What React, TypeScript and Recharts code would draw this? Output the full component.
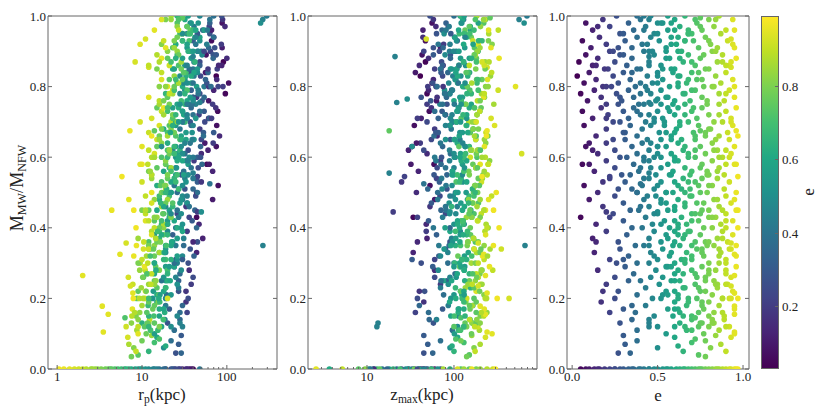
import React from 'react'
import { ScatterChart, Scatter, XAxis, YAxis } from 'recharts'

// each row: [M_MW/M_NFW, e, r_p (kpc), z_max (kpc)]
const band95 = [
  [0.98, 0.08, 88, 56], [0.96, 0.12, 66, 44], [0.99, 0.18, 89, 58], [0.97, 0.22, 62, 86], [1.0, 0.26, 87, 53],
  [0.95, 0.3, 45, 92], [0.98, 0.33, 63, 81], [0.96, 0.36, 52, 73], [0.99, 0.4, 63, 129], [0.97, 0.43, 41, 88],
  [1.0, 0.46, 48, 118], [0.95, 0.5, 30, 77], [0.98, 0.53, 46, 123], [0.96, 0.56, 54, 154], [0.99, 0.6, 32, 126],
  [0.97, 0.63, 34, 154], [1.0, 0.66, 26, 119], [0.95, 0.7, 36, 152], [0.98, 0.73, 26, 220], [0.96, 0.76, 37, 134],
  [0.99, 0.8, 19, 231], [0.97, 0.83, 26, 202], [1.0, 0.86, 22, 183], [0.96, 0.9, 27, 323], [0.99, 0.94, 17, 224],
  [0.99, 0.45, 265, 560], [0.98, 0.5, 250, 640], [1.0, 0.42, 295, 690], [0.97, 0.15, 95, 62], [1.0, 0.38, 70, 100],
  [0.96, 0.68, 40, 170], [0.98, 0.58, 38, 190], [0.995, 0.75, 30, 260],
]
const band90 = [
  [0.93, 0.06, 66, 47], [0.91, 0.11, 88, 70], [0.94, 0.16, 70, 44], [0.92, 0.2, 86, 76], [0.9, 0.24, 54, 68],
  [0.95, 0.28, 63, 63], [0.93, 0.31, 40, 109], [0.91, 0.35, 61, 75], [0.94, 0.38, 70, 102], [0.92, 0.41, 43, 66],
  [0.9, 0.45, 45, 106], [0.95, 0.48, 34, 133], [0.93, 0.51, 48, 107], [0.91, 0.55, 34, 133], [0.94, 0.58, 48, 102],
  [0.92, 0.61, 25, 129], [0.9, 0.64, 35, 186], [0.95, 0.68, 28, 115], [0.93, 0.71, 36, 195], [0.91, 0.74, 23, 172],
  [0.94, 0.78, 26, 158], [0.92, 0.81, 17, 274], [0.9, 0.84, 26, 186], [0.95, 0.87, 30, 251], [0.93, 0.91, 18, 165],
  [0.91, 0.95, 19, 266], [0.92, 0.44, 58, 90], [0.94, 0.62, 42, 140], [0.91, 0.27, 72, 58], [0.93, 0.66, 30, 210],
  [0.96, 0.95, 14, 250], [0.935, 0.93, 11, 48], [0.92, 0.94, 9.5, 190],
]
const band85 = [
  [0.87, 0.04, 91, 47], [0.89, 0.08, 57, 43], [0.86, 0.12, 87, 75], [0.88, 0.15, 100, 51], [0.85, 0.19, 60, 71],
  [0.9, 0.22, 64, 45], [0.87, 0.25, 48, 72], [0.89, 0.28, 69, 91], [0.86, 0.32, 48, 74], [0.88, 0.35, 69, 91],
  [0.85, 0.38, 36, 70], [0.9, 0.42, 50, 89], [0.87, 0.45, 41, 129], [0.89, 0.48, 51, 79], [0.86, 0.52, 32, 136],
  [0.88, 0.55, 38, 119], [0.85, 0.58, 24, 107], [0.9, 0.62, 37, 189], [0.87, 0.65, 42, 129], [0.89, 0.68, 26, 174],
  [0.86, 0.72, 27, 114], [0.88, 0.75, 20, 181], [0.85, 0.78, 29, 228], [0.9, 0.82, 20, 186], [0.87, 0.85, 29, 228],
  [0.89, 0.88, 15, 176], [0.86, 0.92, 21, 223], [0.88, 0.96, 17, 330], [0.87, 0.93, 8.3, 210], [0.86, 0.9, 12, 150],
  [0.88, 0.57, 30, 150], [0.89, 0.3, 75, 58], [0.86, 0.14, 80, 40], [0.885, 0.45, 40, 21],
]
const band80 = [
  [0.83, 0.03, 75, 41], [0.81, 0.07, 105, 56], [0.84, 0.1, 56, 36], [0.82, 0.14, 76, 58], [0.8, 0.18, 61, 75],
  [0.85, 0.21, 77, 60], [0.83, 0.24, 49, 74], [0.81, 0.27, 58, 57], [0.84, 0.3, 37, 71], [0.82, 0.34, 56, 105],
  [0.8, 0.37, 65, 64], [0.85, 0.4, 40, 108], [0.83, 0.44, 41, 97], [0.81, 0.47, 31, 87], [0.84, 0.5, 45, 151],
  [0.82, 0.53, 32, 103], [0.8, 0.57, 44, 141], [0.85, 0.6, 23, 91], [0.83, 0.63, 33, 144], [0.81, 0.67, 26, 184],
  [0.84, 0.7, 33, 148], [0.82, 0.73, 21, 182], [0.8, 0.77, 24, 142], [0.85, 0.8, 15, 178], [0.83, 0.84, 24, 263],
  [0.81, 0.87, 27, 160], [0.84, 0.9, 17, 271], [0.82, 0.94, 17, 243], [0.83, 0.5, 28, 120], [0.81, 0.62, 38, 110],
  [0.84, 0.35, 60, 85], [0.8, 0.2, 90, 50], [0.82, 0.76, 30, 210], [0.855, 0.93, 12, 240], [0.8, 0.95, 20, 510],
]
const band75 = [
  [0.78, 0.05, 96, 49], [0.76, 0.09, 61, 63], [0.79, 0.13, 70, 51], [0.77, 0.17, 44, 64], [0.75, 0.2, 68, 49],
  [0.8, 0.23, 79, 62], [0.78, 0.26, 48, 89], [0.76, 0.29, 51, 54], [0.79, 0.33, 38, 94], [0.77, 0.36, 54, 82],
  [0.75, 0.39, 39, 74], [0.8, 0.43, 54, 132], [0.78, 0.46, 28, 90], [0.76, 0.49, 40, 121], [0.79, 0.52, 32, 78],
  [0.77, 0.56, 40, 125], [0.75, 0.59, 26, 158], [0.8, 0.62, 30, 126], [0.78, 0.66, 19, 158], [0.76, 0.69, 29, 121],
  [0.79, 0.72, 34, 152], [0.77, 0.76, 20, 224], [0.75, 0.79, 21, 137], [0.8, 0.82, 16, 231], [0.78, 0.86, 23, 207],
  [0.76, 0.89, 16, 186], [0.79, 0.92, 23, 322], [0.77, 0.95, 12, 220], [0.76, 0.6, 34, 100], [0.78, 0.4, 46, 78],
  [0.79, 0.7, 24, 190], [0.77, 0.28, 40, 42], [0.755, 0.45, 48, 22], [0.765, 0.5, 40, 29],
]
const band70 = [
  [0.73, 0.06, 78, 52], [0.71, 0.12, 61, 42], [0.74, 0.17, 74, 55], [0.72, 0.21, 47, 80], [0.7, 0.24, 55, 49],
  [0.75, 0.27, 35, 83], [0.73, 0.3, 54, 73], [0.71, 0.33, 62, 66], [0.74, 0.36, 38, 114], [0.72, 0.4, 40, 79],
  [0.7, 0.43, 30, 107], [0.75, 0.46, 43, 69], [0.73, 0.5, 30, 111], [0.71, 0.53, 43, 140], [0.74, 0.56, 23, 112],
  [0.72, 0.6, 31, 140], [0.7, 0.63, 25, 107], [0.75, 0.66, 32, 134], [0.73, 0.7, 20, 198], [0.71, 0.73, 23, 121],
  [0.74, 0.76, 15, 205], [0.72, 0.8, 23, 184], [0.7, 0.83, 26, 164], [0.75, 0.86, 16, 287], [0.73, 0.9, 17, 198],
  [0.71, 0.93, 13, 267], [0.74, 0.96, 18, 172], [0.72, 0.45, 34, 95], [0.74, 0.62, 27, 150], [0.71, 0.2, 66, 38],
  [0.73, 0.38, 48, 60], [0.675, 0.96, 7.2, 240], [0.7, 0.93, 9.5, 180], [0.67, 0.3, 70, 62],
]
const band65 = [
  [0.69, 0.07, 76, 35], [0.66, 0.14, 82, 64], [0.68, 0.2, 48, 60], [0.65, 0.24, 50, 55], [0.7, 0.28, 37, 97],
  [0.67, 0.31, 53, 66], [0.69, 0.34, 38, 89], [0.66, 0.38, 53, 59], [0.68, 0.41, 28, 93], [0.65, 0.44, 39, 117],
  [0.7, 0.48, 31, 95], [0.67, 0.51, 39, 117], [0.69, 0.54, 25, 90], [0.66, 0.58, 29, 115], [0.68, 0.61, 18, 166],
  [0.65, 0.64, 29, 101], [0.7, 0.68, 32, 174], [0.67, 0.71, 20, 154], [0.69, 0.74, 21, 138], [0.66, 0.78, 16, 245],
  [0.68, 0.81, 22, 166], [0.65, 0.84, 16, 224], [0.7, 0.88, 22, 148], [0.67, 0.91, 12, 233], [0.69, 0.94, 16, 293],
  [0.66, 0.97, 13, 236], [0.67, 0.55, 33, 125], [0.69, 0.46, 40, 80], [0.66, 0.72, 25, 180], [0.675, 0.75, 14, 18],
]
const band60 = [
  [0.63, 0.08, 75, 33], [0.61, 0.15, 50, 49], [0.64, 0.2, 69, 41], [0.62, 0.25, 35, 45], [0.6, 0.28, 49, 72],
  [0.65, 0.31, 40, 91], [0.63, 0.35, 49, 74], [0.61, 0.38, 32, 91], [0.64, 0.41, 37, 70], [0.62, 0.45, 23, 89],
  [0.6, 0.48, 36, 129], [0.65, 0.52, 41, 80], [0.63, 0.55, 25, 135], [0.61, 0.58, 26, 119], [0.64, 0.62, 20, 109],
  [0.62, 0.65, 28, 190], [0.6, 0.68, 20, 129], [0.65, 0.72, 28, 178], [0.63, 0.75, 15, 114], [0.61, 0.78, 21, 181],
  [0.64, 0.82, 17, 232], [0.62, 0.85, 21, 187], [0.6, 0.88, 13, 229], [0.65, 0.92, 15, 178], [0.63, 0.95, 10, 224],
  [0.62, 0.12, 60, 30], [0.64, 0.1, 55, 37], [0.61, 0.5, 30, 100], [0.63, 0.66, 24, 150], [0.6, 0.42, 40, 60],
  [0.62, 0.9, 12, 160], [0.63, 0.5, 17, 33], [0.61, 0.93, 14, 600],
]
const band55 = [
  [0.58, 0.06, 58, 59], [0.56, 0.13, 68, 39], [0.59, 0.2, 41, 70], [0.57, 0.25, 46, 64], [0.55, 0.29, 29, 59],
  [0.6, 0.32, 45, 103], [0.58, 0.36, 51, 71], [0.56, 0.39, 31, 96], [0.59, 0.42, 33, 62], [0.57, 0.46, 25, 100],
  [0.55, 0.49, 35, 125], [0.6, 0.52, 25, 101], [0.58, 0.56, 35, 125], [0.56, 0.59, 18, 96], [0.59, 0.62, 26, 121],
  [0.57, 0.66, 21, 178], [0.55, 0.69, 26, 109], [0.6, 0.72, 17, 184], [0.58, 0.76, 19, 165], [0.56, 0.79, 12, 148],
  [0.59, 0.82, 19, 257], [0.57, 0.86, 22, 178], [0.55, 0.89, 13, 241], [0.6, 0.92, 14, 154], [0.58, 0.96, 10, 249],
  [0.57, 0.4, 38, 80], [0.59, 0.6, 30, 140], [0.56, 0.7, 22, 130], [0.58, 0.1, 62, 32], [0.58, 0.95, 9.5, 200],
  [0.545, 0.97, 5.8, 210], [0.555, 0.45, 40, 18],
]
const band50 = [
  [0.52, 0.07, 79, 53], [0.5, 0.15, 44, 37], [0.54, 0.22, 44, 63], [0.51, 0.27, 32, 83], [0.53, 0.31, 45, 68],
  [0.55, 0.34, 32, 83], [0.5, 0.38, 45, 65], [0.52, 0.41, 24, 81], [0.54, 0.45, 32, 120], [0.51, 0.48, 27, 73],
  [0.53, 0.52, 33, 126], [0.5, 0.55, 21, 111], [0.55, 0.58, 25, 99], [0.52, 0.62, 15, 176], [0.54, 0.65, 24, 120],
  [0.51, 0.69, 27, 165], [0.53, 0.72, 17, 106], [0.5, 0.75, 18, 168], [0.55, 0.79, 13, 216], [0.52, 0.82, 19, 173],
  [0.54, 0.85, 13, 212], [0.51, 0.89, 19, 166], [0.53, 0.92, 10, 207], [0.5, 0.96, 13, 306], [0.52, 0.5, 30, 95],
  [0.53, 0.6, 22, 140], [0.51, 0.35, 40, 50], [0.54, 0.76, 20, 190], [0.525, 0.4, 63, 45], [0.53, 0.18, 50, 25],
  [0.545, 0.22, 45, 27],
]
const band45 = [
  [0.48, 0.1, 68, 60], [0.46, 0.18, 33, 53], [0.49, 0.25, 43, 69], [0.47, 0.3, 34, 55], [0.45, 0.34, 42, 71],
  [0.5, 0.38, 26, 104], [0.48, 0.42, 30, 65], [0.46, 0.45, 19, 109], [0.49, 0.49, 30, 98], [0.47, 0.52, 34, 88],
  [0.45, 0.56, 21, 156], [0.5, 0.59, 22, 106], [0.48, 0.62, 16, 143], [0.46, 0.66, 23, 94], [0.49, 0.69, 16, 149],
  [0.47, 0.73, 23, 191], [0.45, 0.76, 12, 153], [0.5, 0.79, 17, 187], [0.48, 0.83, 14, 147], [0.46, 0.86, 17, 184],
  [0.49, 0.9, 11, 271], [0.47, 0.93, 13, 165], [0.45, 0.97, 8, 285], [0.47, 0.55, 28, 120], [0.49, 0.7, 21, 170],
  [0.46, 0.4, 36, 80], [0.48, 0.85, 20, 200], [0.445, 0.2, 45, 20], [0.45, 0.96, 4.4, 230], [0.48, 0.95, 7, 250],
  [0.445, 0.5, 50, 90],
]
const band40 = [
  [0.43, 0.05, 44, 34], [0.41, 0.14, 47, 48], [0.44, 0.24, 26, 80], [0.42, 0.3, 39, 51], [0.4, 0.35, 44, 90],
  [0.45, 0.39, 26, 81], [0.43, 0.43, 27, 74], [0.41, 0.47, 20, 131], [0.44, 0.5, 29, 89], [0.42, 0.54, 20, 122],
  [0.4, 0.57, 29, 79], [0.45, 0.6, 15, 125], [0.43, 0.64, 21, 160], [0.41, 0.67, 17, 128], [0.44, 0.7, 21, 157],
  [0.42, 0.74, 14, 123], [0.4, 0.77, 16, 154], [0.45, 0.8, 10, 223], [0.43, 0.84, 15, 139], [0.41, 0.87, 18, 234],
  [0.44, 0.9, 11, 206], [0.42, 0.94, 11, 189], [0.4, 0.97, 8.5, 330], [0.42, 0.6, 24, 110], [0.44, 0.72, 18, 170],
  [0.41, 0.52, 30, 100], [0.43, 0.8, 22, 200], [0.4, 0.9, 14, 240], [0.43, 0.22, 36, 38],
]
const band35 = [
  [0.37, 0.12, 52, 49], [0.39, 0.2, 34, 48], [0.36, 0.27, 45, 90], [0.38, 0.32, 23, 63], [0.35, 0.37, 31, 88],
  [0.4, 0.41, 25, 58], [0.37, 0.45, 31, 94], [0.39, 0.48, 20, 118], [0.36, 0.52, 23, 96], [0.38, 0.55, 14, 118],
  [0.35, 0.59, 22, 92], [0.4, 0.62, 26, 116], [0.37, 0.65, 16, 167], [0.39, 0.69, 16, 104], [0.36, 0.72, 12, 176],
  [0.38, 0.75, 18, 155], [0.35, 0.79, 12, 142], [0.4, 0.82, 18, 247], [0.37, 0.85, 9, 168], [0.39, 0.88, 13, 227],
  [0.36, 0.91, 10.5, 146], [0.38, 0.94, 13, 231], [0.35, 0.96, 8.6, 284], [0.36, 0.14, 40, 38], [0.37, 0.56, 26, 105],
  [0.38, 0.66, 20, 140], [0.36, 0.78, 15, 190], [0.39, 0.6, 30, 90], [0.35, 0.45, 266, 655], [0.325, 0.95, 5.5, 220],
  [0.357, 0.93, 6.5, 190], [0.34, 0.92, 12, 350],
]
const band30 = [
  [0.33, 0.13, 44, 34], [0.31, 0.22, 25, 60], [0.34, 0.28, 37, 80], [0.32, 0.33, 41, 67], [0.3, 0.38, 24, 85],
  [0.35, 0.42, 25, 67], [0.33, 0.46, 19, 85], [0.31, 0.5, 26, 125], [0.34, 0.53, 19, 77], [0.32, 0.57, 26, 132],
  [0.3, 0.6, 14, 116], [0.35, 0.63, 19, 104], [0.33, 0.67, 16, 184], [0.31, 0.7, 19, 125], [0.34, 0.73, 12.5, 170],
  [0.32, 0.77, 14, 111], [0.3, 0.8, 9, 176], [0.35, 0.83, 14, 222], [0.33, 0.87, 16, 181], [0.31, 0.9, 10, 222],
  [0.34, 0.93, 10.4, 170], [0.32, 0.96, 8, 213], [0.31, 0.64, 22, 140], [0.33, 0.76, 18, 200], [0.32, 0.48, 30, 70],
  [0.34, 0.86, 12, 260], [0.3, 0.26, 35, 42], [0.31, 0.3, 30, 33],
]
const band25 = [
  [0.28, 0.15, 36, 60], [0.26, 0.25, 40, 60], [0.29, 0.31, 24, 57], [0.27, 0.36, 28, 103], [0.25, 0.4, 17, 71],
  [0.3, 0.45, 26, 100], [0.28, 0.49, 29, 66], [0.26, 0.53, 18, 106], [0.29, 0.56, 19, 133], [0.27, 0.6, 14, 109],
  [0.25, 0.63, 20, 133], [0.3, 0.66, 14, 102], [0.28, 0.7, 20, 131], [0.26, 0.73, 10.4, 190], [0.29, 0.76, 14.5, 116],
  [0.27, 0.8, 11.7, 199], [0.25, 0.83, 14.6, 176], [0.3, 0.86, 9.5, 158], [0.28, 0.9, 10.9, 279], [0.26, 0.93, 6.9, 189],
  [0.29, 0.96, 10.7, 256], [0.27, 0.65, 20, 150], [0.28, 0.8, 16, 210], [0.26, 0.46, 25, 90], [0.29, 0.58, 24, 120],
  [0.27, 0.9, 13, 180], [0.265, 0.95, 2.0, 230],
]
const band20 = [
  [0.24, 0.2, 38, 70], [0.22, 0.27, 27, 46], [0.25, 0.33, 27, 83], [0.21, 0.38, 19.5, 76], [0.23, 0.43, 27, 70],
  [0.2, 0.47, 19, 125], [0.24, 0.51, 26, 86], [0.22, 0.55, 13.6, 119], [0.25, 0.58, 19, 76], [0.21, 0.62, 15, 123],
  [0.23, 0.65, 19, 155], [0.2, 0.68, 12, 125], [0.24, 0.72, 14, 155], [0.22, 0.75, 9, 119], [0.25, 0.78, 14, 150],
  [0.21, 0.82, 16, 221], [0.23, 0.85, 9.8, 135], [0.2, 0.88, 10.3, 229], [0.24, 0.91, 7.8, 201], [0.22, 0.94, 11, 180],
  [0.2, 0.97, 7.9, 314], [0.22, 0.6, 18, 130], [0.23, 0.74, 15, 170], [0.21, 0.53, 22, 100], [0.24, 0.85, 12, 210],
  [0.2, 0.25, 35, 38], [0.22, 0.18, 33, 40], [0.2, 0.93, 20, 430], [0.235, 0.93, 7.3, 190], [0.215, 0.95, 7.8, 240],
]
const band15 = [
  [0.19, 0.17, 33, 45], [0.17, 0.3, 21, 74], [0.16, 0.37, 28, 51], [0.18, 0.43, 19, 86], [0.15, 0.48, 26, 112],
  [0.2, 0.52, 13.4, 92], [0.17, 0.56, 18, 114], [0.19, 0.6, 15, 89], [0.16, 0.63, 18.5, 112], [0.18, 0.67, 11.8, 165],
  [0.15, 0.7, 13.8, 101], [0.2, 0.73, 8.7, 170], [0.17, 0.77, 13.4, 153], [0.19, 0.8, 15.5, 137], [0.16, 0.83, 9.4, 239],
  [0.18, 0.86, 10, 163], [0.15, 0.89, 7.6, 220], [0.2, 0.92, 10.8, 140], [0.17, 0.95, 7.7, 223], [0.18, 0.35, 30, 40],
  [0.17, 0.62, 16, 130], [0.19, 0.76, 12, 180], [0.16, 0.22, 34, 36], [0.178, 0.95, 3.4, 200], [0.155, 0.95, 4, 230],
  [0.145, 0.72, 6.3, 120],
]
const band10 = [
  [0.13, 0.28, 20, 58], [0.11, 0.38, 24, 96], [0.14, 0.45, 18.6, 63], [0.12, 0.5, 22, 110], [0.1, 0.55, 14, 101],
  [0.15, 0.59, 16, 92], [0.13, 0.63, 10, 163], [0.11, 0.67, 15.4, 113], [0.14, 0.7, 17.8, 153], [0.12, 0.74, 10.7, 100],
  [0.1, 0.77, 11.2, 159], [0.15, 0.8, 8.5, 200], [0.13, 0.83, 12, 161], [0.11, 0.86, 8.7, 196], [0.14, 0.89, 12.3, 151],
  [0.12, 0.92, 6.5, 188], [0.1, 0.95, 9, 274], [0.12, 0.6, 17, 130], [0.13, 0.75, 14, 180], [0.095, 0.3, 29, 45],
  [0.14, 0.35, 28, 52], [0.12, 0.8, 16, 140], [0.105, 0.95, 3.5, 240], [0.13, 0.82, 7.5, 200], [0.12, 0.45, 30, 13],
  [0.13, 0.45, 28, 13.4],
]
const band05 = [
  [0.045, 0.27, 25, 45], [0.045, 0.34, 29, 57], [0.07, 0.31, 27, 50], [0.08, 0.38, 22, 70], [0.06, 0.5, 18, 90],
  [0.09, 0.6, 15, 110], [0.05, 0.65, 12, 100], [0.075, 0.7, 14, 130], [0.04, 0.74, 9, 150], [0.08, 0.78, 10, 120],
  [0.06, 0.81, 8, 170], [0.095, 0.84, 13, 160], [0.035, 0.78, 7.5, 140], [0.07, 0.87, 7, 200], [0.05, 0.9, 8.5, 175],
  [0.09, 0.93, 6.8, 230], [0.065, 0.62, 19, 95], [0.085, 0.72, 16, 105],
]
// the crowded middle of each cloud (e between about 0.4 and 0.9)
const coreHigh = [
  [0.71, 0.48, 34, 91], [0.74, 0.71, 20, 172], [0.77, 0.55, 37, 117], [0.8, 0.83, 19, 247], [0.83, 0.62, 38, 110],
  [0.86, 0.45, 34, 114], [0.89, 0.77, 27, 171], [0.92, 0.58, 34, 166], [0.95, 0.68, 37, 131], [0.98, 0.52, 37, 121],
  [0.72, 0.86, 18, 184], [0.75, 0.42, 34, 101], [0.78, 0.65, 32, 141], [0.81, 0.5, 34, 134], [0.84, 0.74, 31, 138],
  [0.87, 0.88, 16, 253], [0.9, 0.47, 46, 99], [0.93, 0.8, 24, 249], [0.96, 0.6, 43, 113], [0.99, 0.72, 27, 176],
  [0.73, 0.57, 30, 108], [0.76, 0.79, 18, 200], [0.79, 0.44, 46, 96], [0.82, 0.68, 25, 188], [0.85, 0.53, 45, 94],
  [0.88, 0.63, 25, 159], [0.91, 0.85, 24, 199], [0.94, 0.46, 43, 134], [0.97, 0.75, 34, 150], [1.0, 0.56, 35, 131],
  [0.72, 0.66, 25, 127], [0.75, 0.52, 28, 121], [0.78, 0.9, 21, 223], [0.81, 0.4, 40, 112], [0.84, 0.59, 41, 105],
  [0.87, 0.7, 22, 181], [0.9, 0.55, 40, 114], [0.93, 0.66, 30, 192], [0.96, 0.42, 59, 81], [0.99, 0.84, 22, 219],
]
const coreMid = [
  [0.41, 0.62, 20, 110], [0.44, 0.48, 22, 105], [0.47, 0.77, 19, 164], [0.5, 0.55, 22, 138], [0.53, 0.68, 25, 116],
  [0.56, 0.85, 12.5, 223], [0.59, 0.45, 35, 89], [0.62, 0.72, 20, 201], [0.65, 0.58, 33, 102], [0.68, 0.8, 17, 191],
  [0.42, 0.7, 17, 128], [0.45, 0.88, 11, 221], [0.48, 0.52, 29, 104], [0.51, 0.64, 19.5, 163], [0.54, 0.42, 40, 72],
  [0.57, 0.75, 15, 186], [0.6, 0.6, 27, 117], [0.63, 0.5, 29, 134], [0.66, 0.86, 20, 172], [0.69, 0.63, 23, 140],
  [0.43, 0.82, 14, 160], [0.46, 0.6, 18, 132], [0.49, 0.44, 34, 90], [0.52, 0.74, 16.5, 196], [0.55, 0.57, 31, 95],
  [0.58, 0.9, 11.7, 246], [0.61, 0.68, 24, 136], [0.64, 0.46, 32, 126], [0.67, 0.78, 24, 149], [0.7, 0.54, 27, 119],
  [0.42, 0.9, 12, 186], [0.47, 0.66, 16.6, 147], [0.52, 0.8, 18.5, 176], [0.57, 0.52, 25.5, 132], [0.62, 0.83, 21, 156],
  [0.67, 0.6, 21.6, 144], [0.44, 0.75, 17.6, 149], [0.5, 0.66, 19, 175], [0.55, 0.8, 20, 150], [0.6, 0.86, 14, 210],
]
const coreLow = [
  [0.11, 0.7, 12.6, 119], [0.14, 0.82, 9, 183], [0.17, 0.6, 18, 112], [0.2, 0.88, 9.3, 237], [0.23, 0.66, 19, 104],
  [0.26, 0.78, 10.2, 183], [0.29, 0.55, 21, 100], [0.32, 0.86, 11.3, 243], [0.35, 0.7, 19.4, 119], [0.38, 0.62, 17, 128],
  [0.12, 0.9, 9, 173], [0.15, 0.65, 12, 134], [0.18, 0.76, 14, 151], [0.21, 0.56, 16.3, 131], [0.24, 0.84, 14, 145],
  [0.27, 0.72, 11.4, 164], [0.3, 0.9, 11.7, 190], [0.33, 0.58, 18.5, 146], [0.36, 0.8, 16.5, 144], [0.39, 0.68, 15.3, 143],
  [0.13, 0.76, 11.6, 134], [0.16, 0.88, 8.2, 206], [0.19, 0.68, 16.2, 130], [0.22, 0.78, 11.2, 197], [0.25, 0.6, 21.5, 94],
  [0.28, 0.84, 9.4, 206], [0.31, 0.66, 18, 123], [0.34, 0.76, 13.7, 204], [0.37, 0.88, 14.5, 168], [0.12, 0.66, 12, 130],
  [0.2, 0.62, 15.8, 105], [0.28, 0.62, 14.6, 131], [0.36, 0.6, 22.4, 117], [0.16, 0.74, 11.4, 180], [0.24, 0.9, 12.7, 162],
  [0.32, 0.7, 12.5, 160],
]
// objects with M_MW/M_NFW = 0: [e, r_p, z_max]
const zeroRow = [
  [0.05, 40, 45], [0.08, 36, 60], [0.1, 38, 42], [0.13, 30, 35], [0.16, 33, 55], [0.19, 28, 30], [0.22, 27, 48],
  [0.25, 24, 25], [0.28, 22, 40], [0.3, 23, 70], [0.33, 19, 22], [0.36, 18, 33], [0.39, 16, 15], [0.42, 15, 50],
  [0.45, 13.5, 12], [0.48, 12, 28], [0.5, 11, 65], [0.53, 10, 18], [0.56, 9, 10.5], [0.58, 8.3, 40], [0.61, 7.5, 3.7],
  [0.63, 7, 90], [0.66, 6.2, 13], [0.68, 5.7, 55], [0.7, 5.2, 24], [0.72, 4.8, 120], [0.74, 4.4, 8], [0.76, 4, 150],
  [0.78, 3.7, 35], [0.8, 3.3, 180], [0.82, 3, 9.5], [0.84, 2.8, 200], [0.86, 2.5, 75], [0.88, 2.2, 240], [0.9, 2, 5.2],
  [0.92, 1.8, 280], [0.93, 1.6, 110], [0.95, 1.4, 2.6], [0.96, 1.2, 160], [0.97, 1.05, 300], [0.85, 2.6, 130],
  [0.75, 4.2, 14], [0.65, 6.5, 20], [0.55, 9.5, 30], [0.45, 14, 45], [0.35, 19, 17], [0.25, 25, 38], [0.15, 34, 12],
  [0.4, 48, 11],
]

const yTicks = [0, 0.2, 0.4, 0.6, 0.8, 1.0]
const cbarTicks = [0.2, 0.4, 0.6, 0.8]
const rpTicks = [1, 10, 100]
const rpMinor = [2, 3, 4, 5, 6, 7, 8, 9, 20, 30, 40, 50, 60, 70, 80, 90, 200, 300]
const zTicks = [10, 100]
const zMinor = [3, 4, 5, 6, 7, 8, 9, 20, 30, 40, 50, 60, 70, 80, 90, 200, 300, 400, 500, 600, 700, 800]
const eTicks = [0, 0.5, 1]

const E_MIN = 0.03
const E_MAX = 0.99
const VIRIDIS = ['#440154', '#482475', '#414487', '#355f8d', '#2a788e', '#21918c', '#22a884', '#44bf70', '#7ad151', '#bddf26', '#fde725']

const FONT = '"Liberation Serif", "DejaVu Serif", serif'
const SPINE = '#666666'
const TEXT = '#222222'
const W = 830
const H = 415
const TOP = 16
const BOTTOM = 369

function hexToRgb(h: string) {
  return [parseInt(h.slice(1, 3), 16), parseInt(h.slice(3, 5), 16), parseInt(h.slice(5, 7), 16)]
}

function viridis(e: number) {
  const t = Math.min(1, Math.max(0, (e - E_MIN) / (E_MAX - E_MIN))) * 10
  const i = Math.min(9, Math.floor(t))
  const f = t - i
  const a = hexToRgb(VIRIDIS[i])
  const b = hexToRgb(VIRIDIS[i + 1])
  const c = a.map((v, k) => Math.round(v + (b[k] - v) * f))
  return `rgb(${c[0]},${c[1]},${c[2]})`
}

const points = [
  ...zeroRow.map(([e, rp, zmax]) => ({ ratio: 0, e, rp, zmax })),
  ...[band05, band10, band15, band20, band25, band30, band35, band40, band45, band50,
    band55, band60, band65, band70, band75, band80, band85, band90, band95, coreLow, coreMid, coreHigh]
    .flat()
    .map(([ratio, e, rp, zmax]) => ({ ratio, e, rp, zmax })),
]

const Dot = (p: any) => <circle cx={p.cx} cy={p.cy} r={2.8} fill={viridis(p.payload.e)} />

type Side = 'bottom' | 'top' | 'left' | 'right'

// ticks point inwards; major ones are longer and (on bottom/left) carry a label
function tickMark(side: Side, majors: number[], fmt?: (v: number) => string) {
  return (p: any) => {
    const v = p.payload.value
    const major = majors.some((m) => Math.abs(m - v) < 1e-9)
    const len = major ? 4 : 2
    const { x, y } = p
    const tx = { fill: TEXT, fontSize: 13, fontFamily: FONT }
    if (side === 'bottom') {
      return (
        <g>
          <line x1={x} x2={x} y1={y} y2={y - len} stroke={SPINE} />
          {major && fmt && <text x={x} y={y + 12} textAnchor="middle" {...tx}>{fmt(v)}</text>}
        </g>
      )
    }
    if (side === 'top') return <line x1={x} x2={x} y1={y} y2={y + len} stroke={SPINE} />
    if (side === 'left') {
      return (
        <g>
          <line x1={x} x2={x + len} y1={y} y2={y} stroke={SPINE} />
          {fmt && <text x={x - 2} y={y + 4.5} textAnchor="end" {...tx}>{fmt(v)}</text>}
        </g>
      )
    }
    return <line x1={x} x2={x - len} y1={y} y2={y} stroke={SPINE} />
  }
}

interface PanelProps {
  left: number
  right: number
  xKey: string
  scale: 'log' | 'linear'
  domain: [number, number]
  ticks: number[]
  minor: number[]
  fmt: (v: number) => string
}

function Panel({ left, right, xKey, scale, domain, ticks, minor, fmt }: PanelProps) {
  const all = [...ticks, ...minor]
  const xCommon = {
    type: 'number' as const, scale, domain, allowDataOverflow: true, height: 1, interval: 0 as const,
    tickLine: false, tickSize: 0, tickMargin: 0, axisLine: { stroke: SPINE }, ticks: all,
  }
  const yCommon = {
    type: 'number' as const, domain: [0, 1], allowDataOverflow: true, width: 1, interval: 0 as const,
    tickLine: false, tickSize: 0, tickMargin: 0, axisLine: { stroke: SPINE }, ticks: yTicks,
  }
  return (
    <div style={{ position: 'absolute', left: 0, top: 0 }}>
      <ScatterChart width={W} height={H} margin={{ top: TOP - 1, right: right - 1, bottom: H - BOTTOM - 1, left: left - 1 }}>
        <XAxis xAxisId="b" dataKey={xKey} {...xCommon} tick={tickMark('bottom', ticks, fmt)} />
        <XAxis xAxisId="t" orientation="top" {...xCommon} tick={tickMark('top', ticks)} />
        <YAxis yAxisId="l" dataKey="ratio" {...yCommon} tick={tickMark('left', yTicks, (v) => v.toFixed(1))} />
        <YAxis yAxisId="r" orientation="right" {...yCommon} tick={tickMark('right', yTicks)} />
        <Scatter xAxisId="b" yAxisId="l" data={points} shape={Dot} isAnimationActive={false} />
      </ScatterChart>
    </div>
  )
}

const sub: React.CSSProperties = { fontSize: '0.68em', verticalAlign: '-0.28em' }
const label: React.CSSProperties = {
  position: 'absolute', fontFamily: FONT, color: TEXT, whiteSpace: 'nowrap', fontSize: 17,
  transform: 'translate(-50%, -50%)', lineHeight: 1,
}

export default function App() {
  const cbarY = (v: number) => BOTTOM - ((v - E_MIN) / (E_MAX - E_MIN)) * (BOTTOM - TOP)
  const grad = VIRIDIS.map((c, i) => `${c} ${i * 10}%`).join(', ')
  return (
    <div style={{ position: 'absolute', left: 0, top: 0, width: W, height: H, background: '#fff', overflow: 'hidden' }}>
      <Panel left={48} right={W - 277} xKey="rp" scale="log" domain={[0.78, 390]} ticks={rpTicks}
        minor={rpMinor} fmt={(v) => String(v)} />
      <Panel left={308} right={W - 537} xKey="zmax" scale="log" domain={[2.1, 900]} ticks={zTicks}
        minor={zMinor} fmt={(v) => String(v)} />
      <Panel left={567} right={W - 749} xKey="e" scale="linear" domain={[-0.03, 1.035]} ticks={eTicks}
        minor={[]} fmt={(v) => v.toFixed(1)} />

      <div style={{ ...label, left: 18, top: 188, fontSize: 18, transform: 'translate(-50%, -50%) rotate(-90deg)' }}>
        M<span style={sub}>MW</span>/M<span style={sub}>NFW</span>
      </div>
      <div style={{ ...label, left: 162, top: 396 }}>r<span style={sub}>p</span>(kpc)</div>
      <div style={{ ...label, left: 422, top: 396 }}>z<span style={sub}>max</span>(kpc)</div>
      <div style={{ ...label, left: 658, top: 395 }}>e</div>

      <div style={{
        position: 'absolute', left: 761, top: TOP, width: 18, height: BOTTOM - TOP, boxSizing: 'border-box',
        border: `1px solid ${SPINE}`, background: `linear-gradient(to top, ${grad})`,
      }} />
      {cbarTicks.map((v) => (
        <React.Fragment key={v}>
          <div style={{ position: 'absolute', left: 775, top: cbarY(v), width: 4, height: 1, background: SPINE }} />
          <div style={{ ...label, fontSize: 13, left: 782, top: cbarY(v), transform: 'translate(0, -50%)' }}>{v.toFixed(1)}</div>
        </React.Fragment>
      ))}
      <div style={{ ...label, left: 808, top: 192, fontSize: 17, transform: 'translate(-50%, -50%) rotate(-90deg)' }}>e</div>
    </div>
  )
}
